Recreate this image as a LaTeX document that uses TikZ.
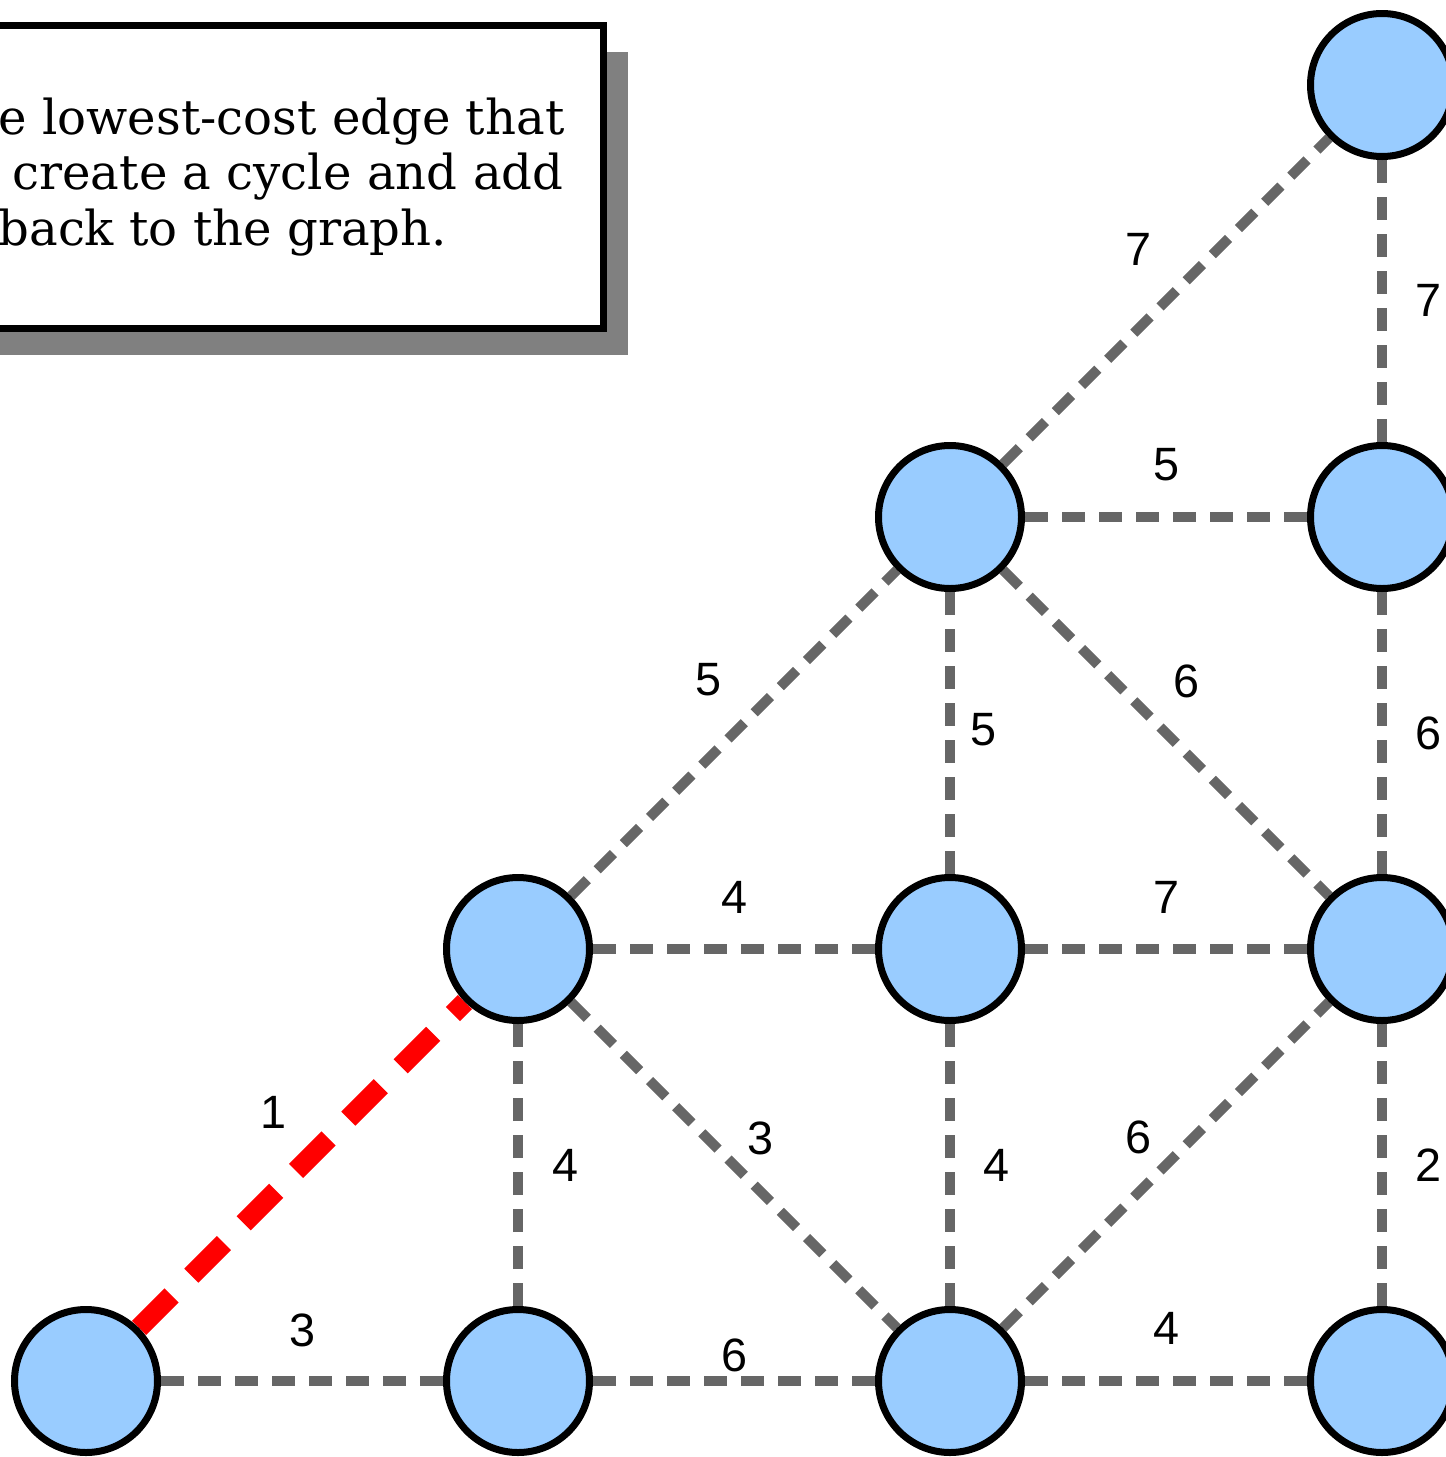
\documentclass[tikz,border=0pt]{standalone}
\usepackage{fontspec}
\setmainfont{DejaVu Serif}
\newfontfamily\numfont{Liberation Sans}
\usepackage{tikz}
\usetikzlibrary{positioning, backgrounds, shadows}
\definecolor{vertexfill}{HTML}{99CCFF}
\definecolor{edgegray}{HTML}{666666}
\definecolor{shadowgray}{HTML}{808080}
\definecolor{pickred}{HTML}{FF0000}

\begin{document}
\begin{tikzpicture}[
  vtx/.style={circle, draw=black, fill=vertexfill, line width=0.07cm,
              minimum size=1.43cm, inner sep=0pt},
  edge/.style={edgegray, line width=0.1cm, dash pattern=on 0.23cm off 0.14cm},
  picked/.style={pickred, line width=0.2cm, dash pattern=on 0.46cm off 0.28cm},
  wt/.style={font=\numfont\fontsize{13.3}{13.3}\selectfont, text=black, inner sep=1pt},
  note/.style={rectangle, draw=black, fill=white, line width=0.07cm,
               align=left, inner xsep=0.39cm,
               minimum height=3.03cm, font=\fontsize{13.7}{15.7}\selectfont,
               drop shadow={shadow xshift=0.25cm, shadow yshift=-0.26cm,
                            fill=shadowgray, opacity=1}},
  node distance=4.32cm, on grid
]
  \useasboundingbox (0,0) rectangle (14.45,-14.57);

  % the instruction box, cut by the page on its left
  \node[note, anchor=north west] (msg) at (-0.44,-0.22)
    {e lowest-cost edge that\\
     \hspace*{0.14cm}create a cycle and add\\
     back to the graph.};

  % vertices, named by column and row from the bottom left
  \node[vtx] (n00) at (0.86,-13.81) {};
  \node[vtx, right=of n00] (n10) {};
  \node[vtx, right=of n10] (n20) {};
  \node[vtx, right=of n20] (n30) {};
  \node[vtx, above=of n10] (n11) {};
  \node[vtx, above=of n20] (n21) {};
  \node[vtx, above=of n30] (n31) {};
  \node[vtx, above=of n21] (n22) {};
  \node[vtx, above=of n31] (n32) {};
  \node[vtx, above=of n32] (n33) {};

  \begin{scope}[on background layer]
    \draw[edge] (n00) -- (n10) node[wt, midway, yshift=0.51cm] {3};
    \draw[edge] (n10) -- (n20) node[wt, midway, yshift=0.26cm] {6};
    \draw[edge] (n20) -- (n30) node[wt, midway, yshift=0.53cm] {4};
    \draw[picked] (n00) -- (n11) node[wt, midway, xshift=-0.29cm, yshift=0.53cm] {1};
    \draw[edge] (n10) -- (n11) node[wt, midway, xshift=0.47cm] {4};
    \draw[edge] (n11) -- (n20) node[wt, midway, xshift=0.26cm, yshift=0.27cm] {3};
    \draw[edge] (n21) -- (n20) node[wt, midway, xshift=0.46cm] {4};
    \draw[edge] (n20) -- (n31) node[wt, midway, xshift=-0.28cm, yshift=0.28cm] {6};
    \draw[edge] (n31) -- (n30) node[wt, midway, xshift=0.46cm] {2};
    \draw[edge] (n11) -- (n21) node[wt, midway, yshift=0.52cm] {4};
    \draw[edge] (n21) -- (n31) node[wt, midway, yshift=0.52cm] {7};
    \draw[edge] (n11) -- (n22) node[wt, midway, xshift=-0.26cm, yshift=0.53cm] {5};
    \draw[edge] (n22) -- (n21) node[wt, midway, xshift=0.33cm, yshift=0.03cm] {5};
    \draw[edge] (n22) -- (n31) node[wt, midway, xshift=0.20cm, yshift=0.52cm] {6};
    \draw[edge] (n32) -- (n31) node[wt, midway, xshift=0.46cm] {6};
    \draw[edge] (n22) -- (n32) node[wt, midway, yshift=0.52cm] {5};
    \draw[edge] (n22) -- (n33) node[wt, midway, xshift=-0.28cm, yshift=0.52cm] {7};
    \draw[edge] (n33) -- (n32) node[wt, midway, xshift=0.46cm, yshift=0.01cm] {7};
  \end{scope}
\end{tikzpicture}
\end{document}
